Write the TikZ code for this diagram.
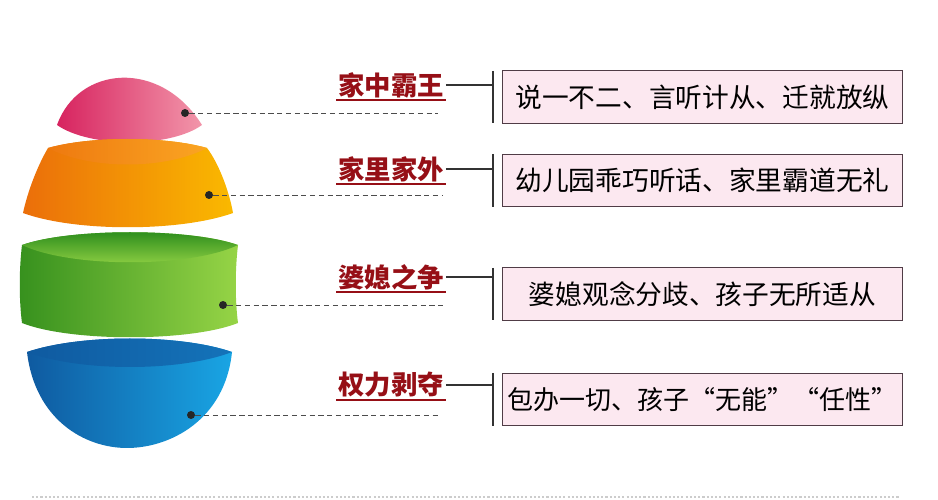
\documentclass[tikz,border=0pt]{standalone}
\usepackage{fontspec}
\newfontfamily\cjk{Noto Sans CJK SC}
\usepackage{xcolor}
\definecolor{labred}{RGB}{150,15,22}
\definecolor{boxpink}{RGB}{252,232,240}
\definecolor{boxline}{RGB}{80,60,70}
\definecolor{pinkA}{RGB}{215,35,95}
\definecolor{pinkB}{RGB}{242,150,170}
\definecolor{orangeA}{RGB}{235,110,10}
\definecolor{orangeB}{RGB}{250,185,0}
\definecolor{orangeC}{RGB}{250,165,35}
\definecolor{greenA}{RGB}{55,145,30}
\definecolor{greenB}{RGB}{150,212,70}
\definecolor{greenC}{RGB}{35,135,25}
\definecolor{blueA}{RGB}{15,90,160}
\definecolor{blueB}{RGB}{25,165,228}
\definecolor{blueC}{RGB}{20,115,185}
\begin{document}
\begin{tikzpicture}[x=0.02cm, y=-0.02cm, lab node/.style={font=\cjk\bfseries\fontsize{15}{15}\selectfont, text=labred, inner sep=1pt}, box node/.style={draw=boxline, line width=0.6pt, fill=boxpink, minimum width=8.02cm, minimum height=1.05cm, inner sep=0pt, font=\cjk\fontsize{15.2}{15.2}\selectfont}, dot node/.style={circle, fill=black!85, inner sep=0pt, minimum size=0.16cm}, lead/.style={densely dashed, black!70, line width=0.5pt}]
\useasboundingbox (0,0) rectangle (938,500);
\shade[left color=pinkA, right color=pinkB] (57,125) .. controls (78,66) and (160,58) .. (202,125) .. controls (170,148) and (90,148) .. (57,125) -- cycle;
\shade[left color=orangeA, right color=orangeB] (48,148) .. controls (90,136) and (165,136) .. (207,148) .. controls (220,165) and (230,195) .. (233,213) .. controls (180,232) and (75,232) .. (23,213) .. controls (28,190) and (38,165) .. (48,148) -- cycle;
\shade[left color=orangeA!80!orangeC, right color=orangeC] (48,148) .. controls (90,136) and (165,136) .. (207,148) .. controls (165,170) and (90,170) .. (48,148) -- cycle;
\shade[left color=greenA, right color=greenB] (22,245) .. controls (70,228) and (190,228) .. (238,245) .. controls (235,270) and (235,300) .. (238,323) .. controls (190,342) and (70,342) .. (22,323) .. controls (19,300) and (19,270) .. (22,245) -- cycle;
\shade[top color=greenC, bottom color=greenB] (22,245) .. controls (70,228) and (190,228) .. (238,245) .. controls (190,268) and (70,268) .. (22,245) -- cycle;
\shade[left color=blueA, right color=blueB] (27,352) .. controls (80,334) and (180,334) .. (232,352) .. controls (225,420) and (170,448) .. (127,448) .. controls (85,448) and (35,420) .. (27,352) -- cycle;
\shade[left color=blueA, right color=blueC] (27,352) .. controls (80,334) and (180,334) .. (232,352) .. controls (180,372) and (80,372) .. (27,352) -- cycle;
\node[dot node] (d1) at (185,113) {};
\node[dot node] (d2) at (209,195) {};
\node[dot node] (d3) at (223,305) {};
\node[dot node] (d4) at (191,415) {};
\coordinate (e1) at (438,113);
\coordinate (e2) at (442,195);
\coordinate (e3) at (446,305);
\coordinate (e4) at (438,415);
\node[lab node] (l1) at (391,85) {家中霸王};
\node[lab node] (l2) at (391,169) {家里家外};
\node[lab node] (l3) at (391,277) {婆媳之争};
\node[lab node] (l4) at (391,385) {权力剥夺};
\coordinate (t1) at (493,71);
\coordinate (u1) at (493,123);
\coordinate (t2) at (493,154);
\coordinate (u2) at (493,207);
\coordinate (t3) at (493,268);
\coordinate (u3) at (493,320);
\coordinate (t4) at (493,373);
\coordinate (u4) at (493,426);
\node[box node] (b1) at (702.5,97) {说一不二、言听计从、迁就放纵};
\node[box node] (b2) at (702.5,180.5) {幼儿园乖巧听话、家里霸道无礼};
\node[box node] (b3) at (702.5,294) {婆媳观念分歧、孩子无所适从};
\node[box node, font=\cjk\fontsize{14.8}{14.8}\selectfont] (b4) at (702.5,399.5) {包办一切、孩子“无能”“任性”};
\draw[lead] (d1) -- (e1);
\draw[lead] (d2) -- (e2);
\draw[lead] (d3) -- (e3);
\draw[lead] (d4) -- (e4);
\draw[labred, line width=1.1pt] (l1.south west) -- (l1.south east);
\draw[labred, line width=1.1pt] (l2.south west) -- (l2.south east);
\draw[labred, line width=1.1pt] (l3.south west) -- (l3.south east);
\draw[labred, line width=1.1pt] (l4.south west) -- (l4.south east);
\draw[black!80, line width=0.6pt] (t1) -- (u1) (t2) -- (u2) (t3) -- (u3) (t4) -- (u4);
\draw[black!80, line width=0.6pt] (l1.east) -- (l1.east -| t1) (l2.east) -- (l2.east -| t2) (l3.east) -- (l3.east -| t3) (l4.east) -- (l4.east -| t4);
\coordinate (s1) at (32,497);
\coordinate (s2) at (900,497);
\draw[gray!40, line width=1.2pt, dash pattern=on 1.2pt off 1.2pt] (s1) -- (s2);
\end{tikzpicture}
\end{document}
